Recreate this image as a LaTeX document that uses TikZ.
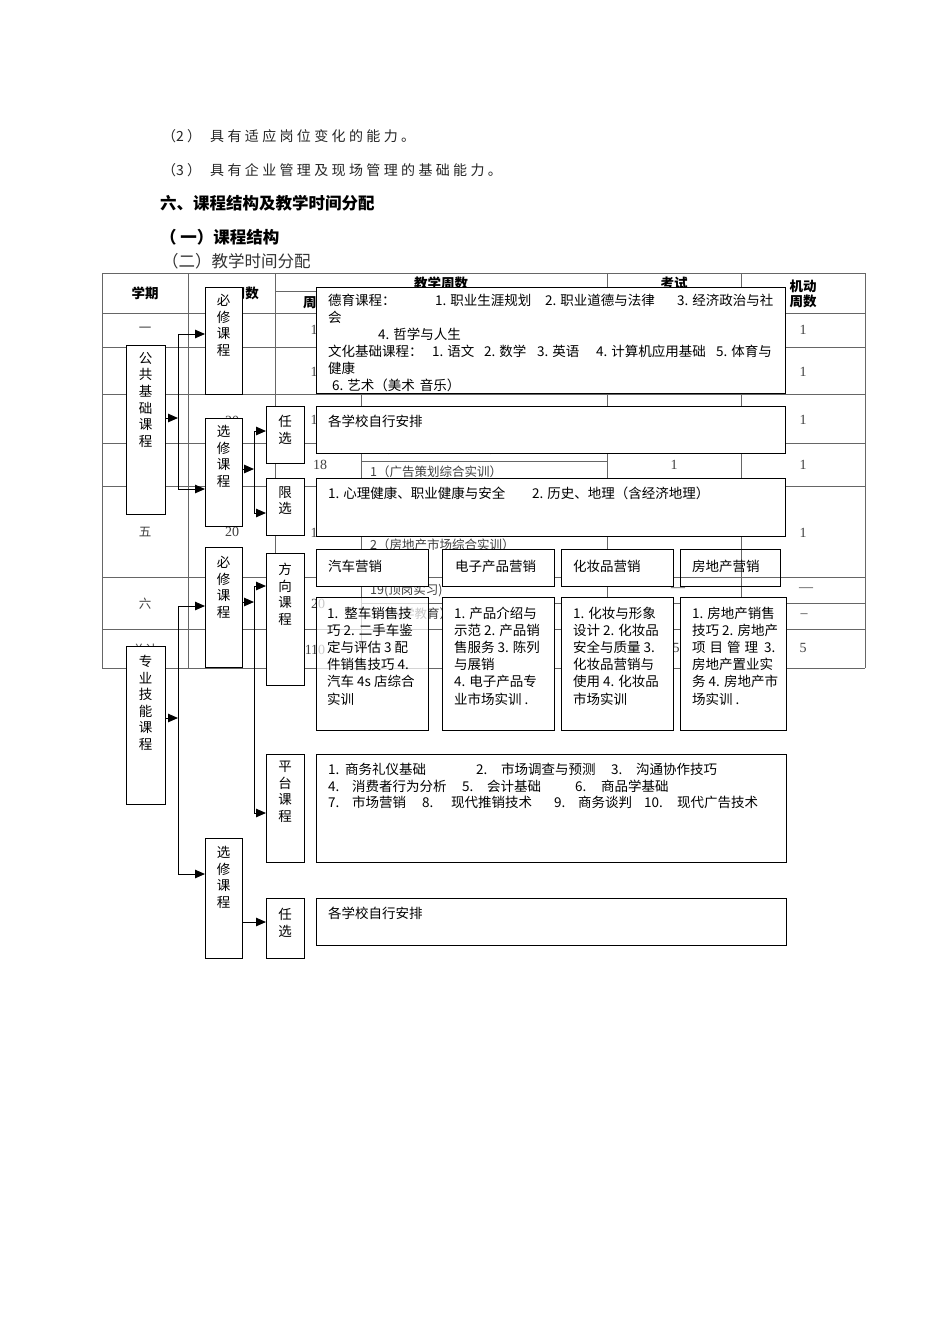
\documentclass[tikz,border=0pt]{standalone}
\usepackage{fontspec}
\setmainfont{Noto Sans CJK SC}
\newfontfamily\numf{Liberation Serif}
\newfontfamily\cjksp{Noto Sans CJK SC}[LetterSpace=24]
\usetikzlibrary{arrows.meta}
\newcommand\mb[2]{\makebox[#1pt][l]{#2}}
\newcommand\bx[6][]{\node[box,minimum width=#5,minimum height=#6,#1] (#2) at (#3,#4) {};}
\begin{document}
\begin{tikzpicture}[x=1pt,y=-1pt,
  box/.style={draw=black,line width=1pt,fill=white,inner sep=0pt,outer sep=0pt,anchor=north west},
  tline/.style={draw=black!60,line width=0.9pt},
  conn/.style={draw=black,line width=1pt},
  arr/.style={conn,-{Triangle[length=10pt,width=8.5pt]}},
  bt/.style={anchor=north west,align=left,inner sep=0pt,font=\fontsize{13.5}{17.2}\selectfont},
  vt/.style={anchor=north,align=center,inner sep=0pt,font=\fontsize{13.5}{16.6}\selectfont},
  lt/.style={anchor=west,inner sep=0pt,font=\fontsize{13.5}{16}\selectfont},
  tt/.style={inner sep=0pt,text=black!75,font=\fontsize{12.5}{15}\selectfont},
  tn/.style={inner sep=0pt,text=black!75,font=\numf\fontsize{14}{16}\selectfont},
  th/.style={inner sep=0pt,font=\bfseries\fontsize{13.5}{16}\selectfont},
]
\fill[white] (0,0) rectangle (950,1344);
\useasboundingbox (0,0) rectangle (950,1344);

% ---------- text above the table ----------
\node[anchor=west,inner sep=0pt,font=\fontsize{14}{16}\selectfont,text=black!85] (p2) at (162,136) {\mb{48}{（2 ）}{\cjksp 具有适应岗位变化的能力。}};
\node[anchor=west,inner sep=0pt,font=\fontsize{14}{16}\selectfont,text=black!85] (p3) at (162,170) {\mb{48}{（3 ）}{\cjksp 具有企业管理及现场管理的基础能力。}};
\node[anchor=west,inner sep=0pt,font=\bfseries\fontsize{16.5}{18}\selectfont] (h6) at (160,203) {六、课程结构及教学时间分配};
\node[anchor=west,inner sep=0pt,font=\bfseries\fontsize{16.5}{18}\selectfont] (h61) at (160,237) {（ 一）课程结构};
\node[anchor=west,inner sep=0pt,font=\fontsize{16.5}{18}\selectfont,text=black!80] (h62) at (162,261) {（二）教学时间分配};

% ---------- table grid ----------
\foreach \y in {273,313,347,394,443,486,577,629,668} \draw[tline] (102,\y) -- (865,\y);
\foreach \x in {102,188,275,607,741,865} \draw[tline] (\x,273) -- (\x,668);
\draw[tline] (275,291) -- (741,291);
\draw[tline] (361,291) -- (361,668);
\draw[tline] (361,461) -- (607,461);
\draw[tline] (361,603) -- (865,603);

% ---------- table texts ----------
\node[th] (c-xq) at (145,293) {学期};
\node[th,anchor=east] (c-zs) at (259,293) {周数};
\node[th] (c-jx) at (441,283) {教学周数};
\node[th] (c-ks) at (674,283) {考试};
\node[th,align=center,font=\bfseries\fontsize{13.5}{15.5}\selectfont] (c-jd) at (803,294) {机动\\周数};
\node[th,anchor=west] (c-z) at (303,302) {周数};
\node[tt] (r1) at (145,330) {一};
\node[tt] (r5) at (145,532) {五};
\node[tt] (r6) at (145,604) {六};
\node[tt] (r7) at (145,650) {总计};
\node[tn] (n11) at (314,330) {1};
\node[tn] (n12) at (314,372) {1};
\node[tn] (n13) at (314,420) {1};
\node[tn] (n14) at (320,465) {18};
\node[tn] (n15) at (314,533) {1};
\node[tn] (n16) at (318,604) {20};
\node[tn] (n17) at (315,650) {110};
\node[tn] (n03) at (232,421) {20};
\node[tn] (n05) at (232,532) {20};
\node[tn] (k4) at (674,465) {1};
\node[tn] (k6) at (678,590) {—};
\node[tn] (k7) at (676,648) {5};
\node[tn] (m1) at (803,330) {1};
\node[tn] (m2) at (803,372) {1};
\node[tn] (m3) at (803,420) {1};
\node[tn] (m4) at (803,465) {1};
\node[tn] (m5) at (803,533) {1};
\node[tn] (m6) at (806,590) {—};
\node[tn] (m6b) at (804,616) {–};
\node[tn] (m7) at (803,648) {5};
\node[tt,anchor=west] (s1) at (370,449) {1（推销工作流程实训）};
\node[tt,anchor=west] (s2) at (370,472) {1（广告策划综合实训）};
\node[tt,anchor=west] (s3) at (370,545) {2（房地产市场综合实训）};
\node[tt,anchor=west] (s4) at (370,590) {19(顶岗实习)};
\node[tt,anchor=west] (s5) at (370,614) {1（入学教育）};

% ---------- left column boxes ----------
\bx{gg}{126}{345}{39}{169}
\bx{bx1}{205}{287}{37}{107}
\bx{xx1}{205}{418}{37}{108}
\bx{rx1}{266}{406}{38}{57}
\bx{lx}{266}{478}{38}{57}
\bx{bx2}{205}{547}{37}{120}
\bx{fx}{266}{553}{38}{132}
\bx{pt}{266}{754}{38}{108}
\bx{zy}{126}{646}{39}{158}
\bx{xx2}{205}{838}{37}{120}
\bx{rx2}{266}{898}{38}{60}
\node[vt] (gg-t) at ([yshift=-7pt]gg.north) {公\\共\\基\\础\\课\\程};
\node[vt] (bx1-t) at ([yshift=-7pt]bx1.north) {必\\修\\课\\程};
\node[vt] (xx1-t) at ([yshift=-7pt]xx1.north) {选\\修\\课\\程};
\node[vt] (rx1-t) at ([yshift=-9pt]rx1.north) {任\\选};
\node[vt] (lx-t) at ([yshift=-8pt]lx.north) {限\\选};
\node[vt] (bx2-t) at ([yshift=-9pt]bx2.north) {必\\修\\课\\程};
\node[vt] (fx-t) at ([yshift=-10pt]fx.north) {方\\向\\课\\程};
\node[vt] (pt-t) at ([yshift=-7pt]pt.north) {平\\台\\课\\程};
\node[vt] (zy-t) at ([yshift=-9pt]zy.north) {专\\业\\技\\能\\课\\程};
\node[vt] (xx2-t) at ([yshift=-8pt]xx2.north) {选\\修\\课\\程};
\node[vt] (rx2-t) at ([yshift=-10pt]rx2.north) {任\\选};

% ---------- right column boxes ----------
\bx{dy}{316}{287}{469}{106}
\bx{az1}{316}{406}{469}{47}
\bx{xl}{316}{478}{469}{58}
\bx{qc}{316}{549}{112}{37}
\bx{dz}{442}{549}{112}{37}
\bx{hz}{561}{549}{112}{37}
\bx[fill=none]{fd}{680}{549}{100}{37}
\bx[fill opacity=0.72]{qcd}{316}{597}{112}{133}
\bx{dzd}{442}{597}{112}{133}
\bx{hzd}{561}{597}{112}{133}
\bx{fdd}{680}{597}{106}{133}
\bx{ptd}{316}{754}{470}{108}
\bx{az2}{316}{898}{470}{47}

\node[bt,font=\fontsize{13.5}{17}\selectfont] (dy-t) at ([xshift=12pt,yshift=-6.5pt]dy.north west)
 {\mb{107}{德育课程：}\mb{110}{1. 职业生涯规划}\mb{132}{2. 职业道德与法律}3. 经济政治与社\\
  会\\
  \hspace*{50pt}4. 哲学与人生\\
  \mb{104}{文化基础课程：}\mb{52}{1. 语文}\mb{53}{2. 数学}\mb{59}{3. 英语}\mb{120}{4. 计算机应用基础}5. 体育与\\
  健康\\
  \hspace*{4pt}6. 艺术（美术\hspace{5pt}音乐）};
\node[bt] (az1-t) at ([xshift=12pt,yshift=-9pt]az1.north west) {各学校自行安排};
\node[bt] (xl-t) at ([xshift=12pt,yshift=-8.7pt]xl.north west) {\mb{204}{1. 心理健康、职业健康与安全}2. 历史、地理（含经济地理）};
\node[lt] (qc-t) at ([xshift=12pt,yshift=1pt]qc.west) {汽车营销};
\node[lt] (dz-t) at ([xshift=13pt,yshift=1pt]dz.west) {电子产品营销};
\node[lt] (hz-t) at ([xshift=12pt,yshift=1pt]hz.west) {化妆品营销};
\node[lt] (fd-t) at ([xshift=12pt,yshift=1pt]fd.west) {房地产营销};
\node[bt] (qcd-t) at ([xshift=11pt,yshift=-9.5pt]qcd.north west)
 {1.\hspace{6pt}整车销售技\\巧 2. 二手车鉴\\定与评估 3 配\\件销售技巧 4.\\汽车 4s 店综合\\实训};
\node[bt] (dzd-t) at ([xshift=12pt,yshift=-9.5pt]dzd.north west)
 {1. 产品介绍与\\示范 2. 产品销\\售服务 3. 陈列\\与展销\\4. 电子产品专\\业市场实训 .};
\node[bt] (hzd-t) at ([xshift=12pt,yshift=-9.5pt]hzd.north west)
 {1. 化妆与形象\\设计 2. 化妆品\\安全与质量 3.\\化妆品营销与\\使用 4. 化妆品\\市场实训};
\node[bt] (fdd-t) at ([xshift=12pt,yshift=-9.5pt]fdd.north west)
 {1. 房地产销售\\技巧 2. 房地产\\项\hspace{4pt}目\hspace{4pt}管\hspace{4pt}理\hspace{6pt}3.\\房地产置业实\\务 4. 房地产市\\场实训 .};
\node[bt,font=\fontsize{13.5}{16.7}\selectfont] (ptd-t) at ([xshift=12pt,yshift=-8.7pt]ptd.north west)
 {\mb{17}{1.}\mb{131}{商务礼仪基础}\mb{25}{2.}\mb{110}{市场调查与预测}\mb{25}{3.}沟通协作技巧\\
  \mb{24}{4.}\mb{110}{消费者行为分析}\mb{25}{5.}\mb{88}{会计基础}\mb{26}{6.}商品学基础\\
  \mb{24}{7.}\mb{70}{市场营销}\mb{29}{8.}\mb{103}{现代推销技术}\mb{24}{9.}\mb{66}{商务谈判}\mb{33}{10.}现代广告技术};
\node[bt] (az2-t) at ([xshift=12pt,yshift=-8.7pt]az2.north west) {各学校自行安排};

% ---------- connectors ----------
\coordinate (j1) at (178,418); \coordinate (j1t) at (178,334); \coordinate (j1b) at (178,489);
\draw[arr] (gg.east |- j1) -- (j1);
\draw[conn] (j1t) -- (j1b);
\draw[arr] (j1t) -- (j1t -| bx1.west);
\draw[arr] (j1b) -- (j1b -| xx1.west);

\coordinate (j2) at (254,469); \coordinate (j2t) at (254,431); \coordinate (j2b) at (254,513);
\draw[arr] (xx1.east |- j2) -- (j2);
\draw[conn] (j2t) -- (j2b);
\draw[arr] (j2t) -- (j2t -| rx1.west);
\draw[arr] (j2b) -- (j2b -| lx.west);

\coordinate (j3) at (178,718); \coordinate (j3t) at (178,606); \coordinate (j3b) at (178,874);
\draw[arr] (zy.east |- j3) -- (j3);
\draw[conn] (j3t) -- (j3b);
\draw[arr] (j3t) -- (j3t -| bx2.west);
\draw[arr] (j3b) -- (j3b -| xx2.west);

\coordinate (j4) at (254,602); \coordinate (j4t) at (254,586); \coordinate (j4b) at (254,813);
\draw[arr] (bx2.east |- j4) -- (j4);
\draw[conn] (j4t) -- (j4b);
\draw[arr] (j4t) -- (j4t -| fx.west);
\draw[arr] (j4b) -- (j4b -| pt.west);

\coordinate (j5) at (254,922);
\draw[arr] (xx2.east |- j5) -- (rx2.west |- j5);
\end{tikzpicture}
\end{document}
